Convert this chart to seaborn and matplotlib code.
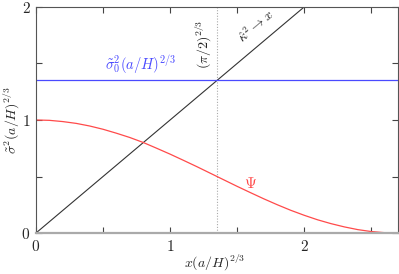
import matplotlib
matplotlib.use('Agg')
import matplotlib.pyplot as plt
import seaborn as sns
import pandas as pd

# readings from the reference
psi_x = [0.0, 0.1, 0.2, 0.3, 0.4, 0.5, 0.6, 0.7, 0.8, 0.9, 1.0, 1.1, 1.2, 1.3,
         1.4, 1.5, 1.6, 1.7, 1.8, 1.9, 2.0, 2.1, 2.2, 2.3, 2.4, 2.5, 2.6, 2.7]
psi_y = [1.000, 0.997, 0.986, 0.970, 0.947, 0.918, 0.883, 0.845, 0.801, 0.750,
         0.698, 0.643, 0.587, 0.529, 0.471, 0.413, 0.357, 0.302, 0.250, 0.201,
         0.157, 0.117, 0.083, 0.054, 0.030, 0.013, 0.003, 0.0]
kappa_x = [0.0, 2.0]
kappa_y = [0.0, 2.0]
sigma0 = 1.351
x_crit = 1.351
xlim = (0, 2.7)
ylim = (0, 2)

sns.set_style('ticks')
plt.rcParams['mathtext.fontset'] = 'cm'
plt.rcParams['font.family'] = ['DejaVu Serif']

fig = plt.figure(figsize=(3.99, 2.74), dpi=100)
ax = fig.add_axes([0.0902, 0.1496, 0.9073, 0.8249])

psi = pd.DataFrame({'x': psi_x, 'y': psi_y})
kap = pd.DataFrame({'x': kappa_x, 'y': kappa_y})
sig = pd.DataFrame({'x': list(xlim), 'y': [sigma0, sigma0]})

ax.axvline(x_crit, color='#aaaaaa', lw=0.8, ls=(0, (1, 1.5)), zorder=1)
sns.lineplot(data=kap, x='x', y='y', ax=ax, color='#333333', lw=0.8)
sns.lineplot(data=sig, x='x', y='y', ax=ax, color='#4a4aff', lw=0.9)
sns.lineplot(data=psi, x='x', y='y', ax=ax, color='#ff4a4a', lw=0.9)

ax.set_xlim(*xlim)
ax.set_ylim(*ylim)
ax.set_xticks([0, 0.5, 1, 1.5, 2, 2.5])
ax.set_xticklabels(['$0$', '', '$1$', '', '$2$', ''])
ax.set_yticks([0, 0.5, 1, 1.5, 2])
ax.set_yticklabels(['$0$', '', '$1$', '', '$2$'])
ax.tick_params(direction='in', length=4, width=0.8, color='#444444',
               labelsize=11, top=True, right=True, pad=4)
for s in ['left', 'top', 'right']:
    ax.spines[s].set_color('#555555')
    ax.spines[s].set_linewidth(0.8)
ax.spines['bottom'].set_color('#aaaaaa')
ax.spines['bottom'].set_linewidth(1.6)

ax.set_xlabel(r'$x(a/H)^{2/3}$', fontsize=10)
ax.xaxis.set_label_coords(0.494, -0.128)
ax.xaxis.label.set_va('center')
ax.set_ylabel(r'$\tilde{\sigma}^2(a/H)^{2/3}$', fontsize=10)
ax.yaxis.set_label_coords(-0.068, 0.5)
ax.yaxis.label.set_va('center')

ax.text(0.78, sigma0 + 0.04, r'$\tilde{\sigma}_0^2(a/H)^{2/3}$', color='#4a4aff',
        fontsize=10.5, ha='center', va='bottom')
ax.text(x_crit - 0.03, 1.67, r'$(\pi/2)^{2/3}$', rotation=90, fontsize=10,
        ha='right', va='center', color='#222222')
ax.text(1.64, 1.83, r'$\hat{\kappa}^2\rightarrow x$', rotation=40, fontsize=10,
        ha='center', va='center', color='#222222', rotation_mode='anchor')
ax.text(1.6, 0.44, r'$\Psi$', color='#ff4a4a', fontsize=11, ha='center', va='center')

fig.savefig('out.png', dpi=100)
